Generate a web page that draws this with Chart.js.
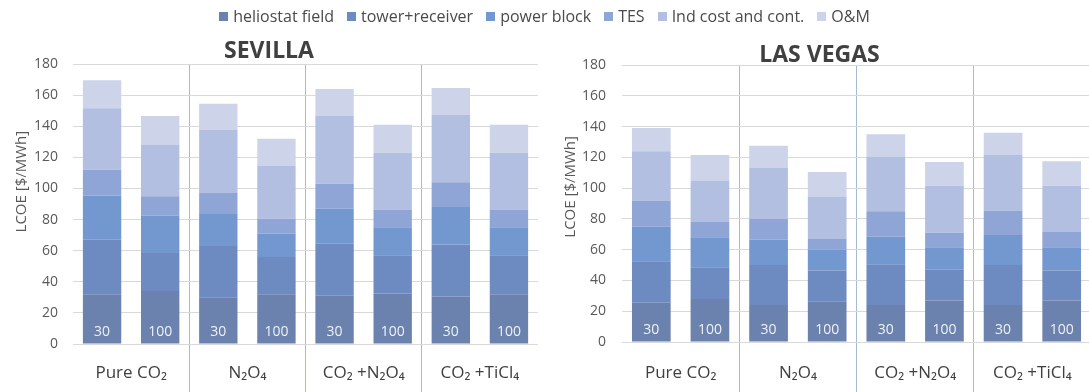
<!DOCTYPE html>
<html>
<head>
<meta charset="utf-8">
<script src="https://cdn.jsdelivr.net/npm/chart.js@4.4.1/dist/chart.umd.min.js"></script>
<style>
  html, body { margin: 0; padding: 0; background: #fff; overflow: hidden; }
  body { width: 1089px; height: 392px; position: relative; font-family: 'Open Sans', sans-serif; }
  .chart-box { position: absolute; top: 0; height: 392px; width: 545px; }
  #sevBox { left: 0; }
  #lvBox { left: 548px; }
  #legend {
    position: absolute; top: 5px; left: 0; width: 1089px; z-index: 2;
    display: flex; justify-content: center; gap: 13px;
    font-size: 16px; color: #4a4a4a; white-space: nowrap;
  }
  #legend .item { display: flex; align-items: center; }
  #legend .swatch { width: 9px; height: 9px; margin-right: 5px; display: inline-block; }
</style>
</head>
<body>
<div id="legend"></div>
<div class="chart-box" id="sevBox"><canvas id="sevChart" width="545" height="392"></canvas></div>
<div class="chart-box" id="lvBox"><canvas id="lvChart" width="545" height="392"></canvas></div>
<script>
// capacity labels shown inside each bar, and the fluid groups under them
const categories = ['30', '100', '30', '100', '30', '100', '30', '100'];
const groupLabels = ['Pure CO₂', 'N₂O₄', 'CO₂ +N₂O₄', 'CO₂ +TiCl₄'];
const seriesNames = ['heliostat field', 'tower+receiver', 'power block', 'TES', 'Ind cost and cont.', 'O&M'];
const seriesColors = ['#6b82ae', '#6d8ac1', '#7397cf', '#8fa5d6', '#b3bfe0', '#cdd4ea'];
const yTicks = [0, 20, 40, 60, 80, 100, 120, 140, 160, 180];

// Sevilla LCOE split [$/MWh]
const sevHeliostat = [32, 34, 30, 32, 31, 32.5, 30.5, 32];
const sevTower = [35, 24.5, 33, 24, 33.5, 24.5, 33.5, 25];
const sevPower = [28.5, 24, 20.5, 15, 22.5, 18, 24, 18];
const sevTes = [16.5, 12.5, 13.5, 9.5, 16, 11.5, 16, 11.5];
const sevInd = [39.5, 33, 40.5, 34, 43.5, 36.5, 43.5, 36.5];
const sevOm = [18, 18.5, 17, 17.5, 17.5, 18, 17, 18];

// Las Vegas LCOE split [$/MWh]
const lvHeliostat = [25.5, 28, 24, 26.5, 24, 27, 24, 27];
const lvTower = [27, 20.5, 26, 20, 26.5, 20, 26, 19.5];
const lvPower = [22.5, 19.5, 16.5, 13.5, 18, 14.5, 19.5, 15];
const lvTes = [17, 10, 13.5, 7, 16.5, 9.5, 16, 10];
const lvInd = [32, 27, 33, 27.5, 35.5, 30.5, 36, 30];
const lvOm = [15, 16.5, 14.5, 16, 14.5, 15.5, 14.5, 16];

const FONT = "'Open Sans', sans-serif";
const Y_TITLE = 'LCOE [$/MWh]';

// html legend shared by both panels
document.getElementById('legend').innerHTML = seriesNames.map((n, i) =>
  `<span class="item"><span class="swatch" style="background:${seriesColors[i]}"></span>${n.replace('&', '&amp;')}</span>`
).join('');

// writes 30 / 100 at the foot of each bar
const barFootLabels = {
  id: 'barFootLabels',
  afterDatasetsDraw(chart) {
    const { ctx, chartArea } = chart;
    const meta = chart.getDatasetMeta(0);
    ctx.save();
    ctx.font = `14px ${FONT}`;
    ctx.fillStyle = '#eef1f7';
    ctx.textAlign = 'center';
    ctx.textBaseline = 'middle';
    meta.data.forEach((bar, i) => {
      ctx.fillText(categories[i], bar.x, chartArea.bottom - 12);
    });
    ctx.restore();
  },
};

// rotated y title, sitting a bit above the middle like in excel
const yTitle = {
  id: 'yTitle',
  afterDraw(chart, args, o) {
    const { ctx, chartArea } = chart;
    ctx.save();
    ctx.translate(o.x, chartArea.top + chartArea.height * o.at);
    ctx.rotate(-Math.PI / 2);
    ctx.font = `15px ${FONT}`;
    ctx.fillStyle = '#595959';
    ctx.textAlign = 'center';
    ctx.textBaseline = 'middle';
    ctx.fillText(Y_TITLE, 0, 0);
    ctx.restore();
  },
};

// only the inner group boundaries get a separator line
const sepColor = (c) => (c.type === 'tick' && c.index > 0 && c.index < groupLabels.length ? '#a9b8d3' : 'rgba(255,255,255,0)');

function makeChart(canvasId, title, series, opts) {
  const datasets = series.map((data, i) => ({
    label: seriesNames[i],
    data,
    backgroundColor: seriesColors[i],
    borderWidth: 0,
    categoryPercentage: 1,
    barPercentage: 0.66,
  }));

  return new Chart(document.getElementById(canvasId), {
    type: 'bar',
    data: { labels: categories, datasets },
    plugins: [barFootLabels, yTitle],
    options: {
      responsive: false,
      animation: false,
      layout: { padding: { top: opts.top, right: opts.right, left: 0, bottom: 0 } },
      plugins: {
        legend: { display: false },
        tooltip: { enabled: false },
        yTitle: { x: opts.titleX, at: opts.titleAt },
        title: {
          display: true,
          text: title,
          color: '#404040',
          font: { family: FONT, size: 23, weight: 'bold', lineHeight: 1 },
          padding: { top: 0, bottom: opts.titleGap },
        },
      },
      scales: {
        x: { stacked: true, display: false },
        xg: {
          type: 'category',
          labels: groupLabels,
          position: 'bottom',
          offset: true,
          grid: {
            offset: true,
            drawTicks: true,
            tickLength: opts.xh,
            lineWidth: 1,
            color: sepColor,
            tickColor: sepColor,
          },
          border: { display: false },
          ticks: { color: '#404040', font: { family: FONT, size: 17 }, padding: -29, maxRotation: 0, autoSkip: false },
          afterFit: (s) => { s.height = opts.xh; },
        },
        y: {
          stacked: true,
          min: 0,
          max: 180,
          afterBuildTicks: (s) => { s.ticks = yTicks.map((v) => ({ value: v })); },
          grid: { color: '#d9d9d9', drawTicks: false },
          border: { display: false },
          ticks: { color: '#595959', font: { family: FONT, size: 14 }, padding: opts.tickPad },
          afterFit: (s) => { s.width = opts.yw; },
        },
      },
    },
  });
}

makeChart('sevChart', 'SEVILLA',
  [sevHeliostat, sevTower, sevPower, sevTes, sevInd, sevOm],
  { top: 40, titleGap: 1, right: 7, xh: 48, yw: 73, tickPad: 15, titleX: 22, titleAt: 0.42 });

makeChart('lvChart', 'LAS VEGAS',
  [lvHeliostat, lvTower, lvPower, lvTes, lvInd, lvOm],
  { top: 44, titleGap: -2, right: 2, xh: 50, yw: 74, tickPad: 16, titleX: 23, titleAt: 0.44 });
</script>
</body>
</html>
